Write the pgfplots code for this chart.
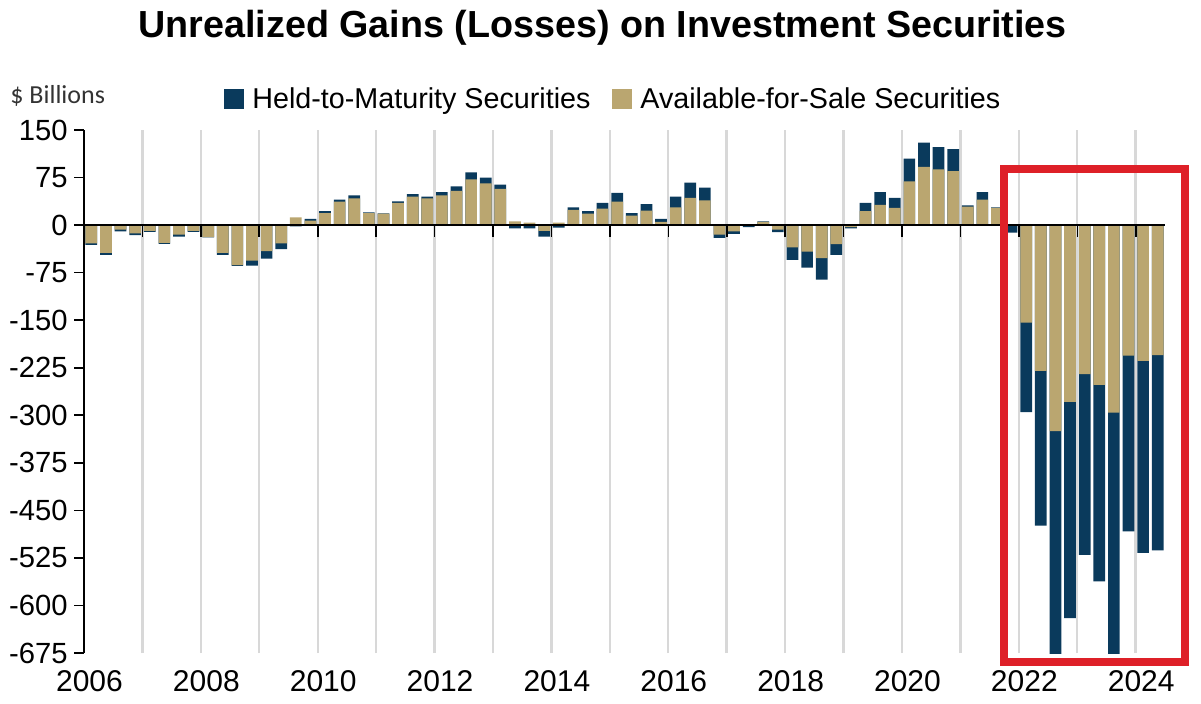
\documentclass[border=0pt]{standalone}
\usepackage{pgfplots}
\pgfplotsset{compat=1.18}
\usepackage{pgfplotstable}
\usepackage{fontspec}
\setmainfont{Liberation Sans}
\newfontfamily\calfont{Carlito}
\definecolor{navy}{RGB}{10,58,92}
\definecolor{tanc}{RGB}{186,166,112}
\definecolor{boxred}{RGB}{222,32,40}
\definecolor{gridgray}{RGB}{216,216,216}

% quarter centre, available-for-sale, held-to-maturity ($ billions)
\pgfplotstableread{
x afs htm
2006.125 -29 -2
2006.375 -44 -3
2006.625 -7 -3
2006.875 -13 -3
2007.125 -9 -1.5
2007.375 -28 -1.5
2007.625 -15 -3
2007.875 -9 -1.5
2008.125 -19 -0.5
2008.375 -44 -3
2008.625 -63 -1.5
2008.875 -56 -8
2009.125 -41 -12
2009.375 -29 -9
2009.625 12 -2
2009.875 7 3
2010.125 19 3
2010.375 37 3
2010.625 42 5
2010.875 19 1
2011.125 18 0.5
2011.375 35 2.5
2011.625 45 4
2011.875 42 3
2012.125 47 5
2012.375 54 7
2012.625 72 11
2012.875 66 9
2013.125 57 7
2013.375 6 -5
2013.625 4 -5
2013.875 -9 -9
2014.125 4 -4
2014.375 24 4
2014.625 18 4
2014.875 26 9
2015.125 37 14
2015.375 15 4
2015.625 23 10
2015.875 5 5
2016.125 28 17
2016.375 43 24
2016.625 39 20
2016.875 -15 -5
2017.125 -10 -4
2017.375 -1 -2
2017.625 5 1
2017.875 -7 -4
2018.125 -35 -20
2018.375 -42 -25
2018.625 -52 -34
2018.875 -30 -17
2019.125 -3 -2
2019.375 22 13
2019.625 32 20
2019.875 27 16
2020.125 69 36
2020.375 92 38
2020.625 88 35
2020.875 85 35
2021.125 29 2
2021.375 40 12
2021.625 27 1
2021.875 -1 -11
2022.125 -154 -141
2022.375 -230 -244
2022.625 -325 -365
2022.875 -279 -341
2023.125 -235 -285
2023.375 -252 -310
2023.625 -296 -388
2023.875 -206 -277
2024.125 -214 -303
2024.375 -205 -308
}\secdata

\begin{document}
\begin{tikzpicture}
\path[use as bounding box] (0,0) rectangle (600.5pt,-351.5pt);
\begin{axis}[
  at={(42pt,-326.5pt)}, anchor=south west,
  scale only axis, width=540.5pt, height=261.5pt,
  xmin=2006, xmax=2024.5, ymin=-675, ymax=150,
  ybar, bar width=0.2, bar shift=0pt,
  axis y line=left, axis x line=bottom,
  axis line style={-},
  x axis line style={draw=none},
  y axis line style={black, line width=0.8pt},
  xtick={2006,2007,...,2024},
  xticklabels={2006,,2008,,2010,,2012,,2014,,2016,,2018,,2020,,2022,,2024},
  xtick style={draw=none},
  xmajorgrids=true,
  major grid style={gridgray, line width=1.2pt},
  ytick={-675,-600,-525,-450,-375,-300,-225,-150,-75,0,75,150},
  yticklabels={-675,-600,-525,-450,-375,-300,-225,-150,-75,0,75,150},
  ytick style={black, line width=0.8pt},
  tick align=outside,
  major tick length=5pt,
  xticklabel style={font=\fontsize{15}{17}\selectfont, text=black, anchor=base, inner sep=0pt, yshift=-14pt, xshift=2.75pt},
  yticklabel style={font=\fontsize{14.6}{17}\selectfont, text=black, anchor=east, inner sep=0pt, xshift=-3pt},
]
\addplot[draw=none, fill=navy] table[x=x, y expr={\thisrow{afs}*\thisrow{htm}>=0 ? \thisrow{afs}+\thisrow{htm} : \thisrow{htm}}] {\secdata};
\addplot[draw=none, fill=tanc] table[x=x, y=afs] {\secdata};
\draw[black, line width=1pt] (axis cs:2006,0) -- (axis cs:2024.5,0);
\pgfplotsinvokeforeach{2007,2008,...,2024}{
  \draw[black, line width=0.8pt] (axis cs:#1,0) -- ++(0pt,-6pt);
}
\end{axis}
% title, unit, legend, highlight box
\node[anchor=base, inner sep=0pt, font=\fontsize{18.85}{22}\selectfont\bfseries] at (301.25pt,-18.5pt) {Unrealized Gains (Losses) on Investment Securities};
\node[anchor=base west, inner sep=0pt, font=\calfont\fontsize{13}{15}\selectfont, text=black!80] at (5pt,-51.5pt) {\$ Billions};
\fill[navy] (112pt,-44.5pt) rectangle (122pt,-54.5pt);
\node[anchor=base west, inner sep=0pt, font=\fontsize{14.35}{17}\selectfont] at (126pt,-54.25pt) {Held-to-Maturity Securities};
\fill[tanc] (306pt,-44.5pt) rectangle (316pt,-54.5pt);
\node[anchor=base west, inner sep=0pt, font=\fontsize{14.35}{17}\selectfont] at (320pt,-54.25pt) {Available-for-Sale Securities};
\draw[boxred, line width=4pt] (502pt,-84.5pt) rectangle (592.5pt,-331pt);
\end{tikzpicture}
\end{document}
